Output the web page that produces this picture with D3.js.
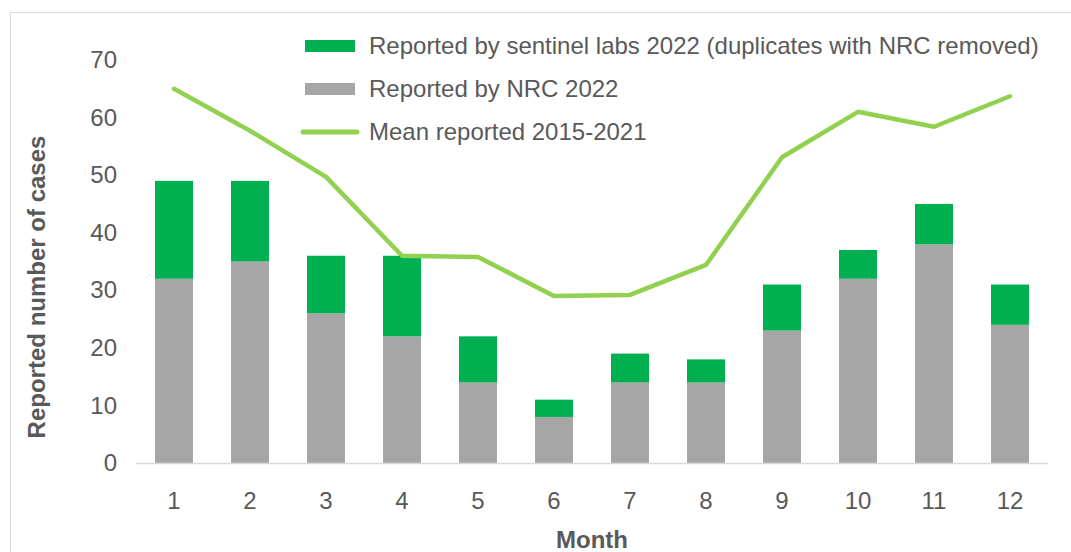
<!DOCTYPE html>
<html>
<head>
<meta charset="utf-8">
<script src="https://cdn.jsdelivr.net/npm/d3@7.9.0/dist/d3.min.js"></script>
<style>
  body { margin: 0; background: #fff; }
  svg text { font-family: "Liberation Sans", Arial, sans-serif; fill: #595959; }
</style>
</head>
<body>
<svg id="chart" width="1071" height="552"></svg>
<script>
const months = ['1', '2', '3', '4', '5', '6', '7', '8', '9', '10', '11', '12'];
const nrc = [32, 35, 26, 22, 14, 8, 14, 14, 23, 32, 38, 24];
const sentinel = [17, 14, 10, 14, 8, 3, 5, 4, 8, 5, 7, 7];
const meanPrev = [65, 57.7, 49.7, 36, 35.8, 29, 29.2, 34.4, 53.1, 61, 58.4, 63.7];
const yTicks = [0, 10, 20, 30, 40, 50, 60, 70];

const svg = d3.select('#chart');

// outer chart frame
svg.append('rect')
  .attr('x', 10.5).attr('y', 12.5)
  .attr('width', 1100).attr('height', 600)
  .attr('fill', 'none').attr('stroke', '#d9d9d9');

let x = d3.scaleBand().domain(months).range([136, 1048])
  .paddingInner(0.5).paddingOuter(0.25);
let y = d3.scaleLinear().domain([0, 70]).range([463, 60]);

// stacked bars
months.forEach((m, i) => {
  svg.append('rect')
    .attr('x', x(m)).attr('width', x.bandwidth())
    .attr('y', y(nrc[i])).attr('height', y(0) - y(nrc[i]))
    .attr('fill', '#a6a6a6');
  svg.append('rect')
    .attr('x', x(m)).attr('width', x.bandwidth())
    .attr('y', y(nrc[i] + sentinel[i])).attr('height', y(nrc[i]) - y(nrc[i] + sentinel[i]))
    .attr('fill', '#00b050');
});

// x axis line
svg.append('line')
  .attr('x1', 136).attr('x2', 1048)
  .attr('y1', y(0) + 0.5).attr('y2', y(0) + 0.5)
  .attr('stroke', '#d9d9d9').attr('stroke-width', 1.5);

// mean line
let line = d3.line()
  .x((d, i) => x(months[i]) + x.bandwidth() / 2)
  .y((d) => y(d));
svg.append('path')
  .attr('d', line(meanPrev))
  .attr('fill', 'none')
  .attr('stroke', '#92d050')
  .attr('stroke-width', 4.5)
  .attr('stroke-linejoin', 'round')
  .attr('stroke-linecap', 'round');

// y axis
let yAxis = svg.append('g')
  .attr('transform', 'translate(117,0)')
  .call(d3.axisLeft(y).tickValues(yTicks).tickSize(0).tickPadding(0));
yAxis.select('.domain').remove();
yAxis.selectAll('text').style('font-size', '24px').attr('fill', '#595959');

// x axis labels
let xAxis = svg.append('g')
  .attr('transform', `translate(0,${y(0)})`)
  .call(d3.axisBottom(x).tickSize(0).tickPadding(29));
xAxis.select('.domain').remove();
xAxis.selectAll('text').style('font-size', '24px').attr('fill', '#595959');

// axis titles
svg.append('text')
  .attr('transform', 'translate(45,287) rotate(-90)')
  .attr('text-anchor', 'middle')
  .style('font-size', '24px').style('font-weight', 'bold')
  .text('Reported number of cases');
svg.append('text')
  .attr('x', 592).attr('y', 548)
  .attr('text-anchor', 'middle')
  .style('font-size', '24px').style('font-weight', 'bold')
  .text('Month');

// legend
const legendItems = [
  { label: 'Reported by sentinel labs 2022 (duplicates with NRC removed)', color: '#00b050', type: 'rect' },
  { label: 'Reported by NRC 2022', color: '#a6a6a6', type: 'rect' },
  { label: 'Mean reported 2015-2021', color: '#92d050', type: 'line' }
];
legendItems.forEach((d, i) => {
  let g = svg.append('g').attr('transform', `translate(297,${46 + i * 43})`);
  if (d.type === 'rect') {
    g.append('rect').attr('x', 8).attr('y', -6).attr('width', 50).attr('height', 12).attr('fill', d.color);
  } else {
    g.append('line').attr('x1', 6).attr('x2', 60).attr('y1', 0).attr('y2', 0)
      .attr('stroke', d.color).attr('stroke-width', 5).attr('stroke-linecap', 'round');
  }
  g.append('text').attr('x', 72).attr('y', 8).style('font-size', '24px').text(d.label);
});
</script>
</body>
</html>
